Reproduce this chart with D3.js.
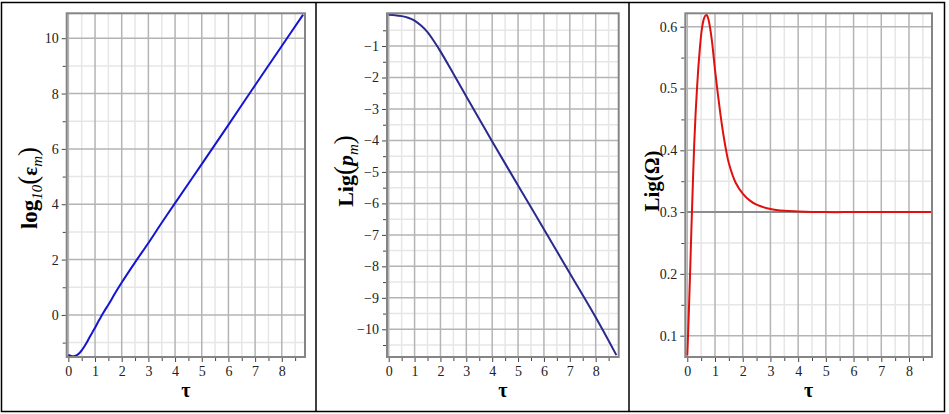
<!DOCTYPE html>
<html><head><meta charset="utf-8">
<script src="https://cdn.jsdelivr.net/npm/d3@7"></script>
<style>html,body{margin:0;padding:0;background:#fff}svg{display:block}</style>
</head><body>
<svg id="c" width="949" height="414"></svg>
<script>
// ---------- data ----------
const tauTicks = [0,1,2,3,4,5,6,7,8];
const tauMinor = [0.5,1.5,2.5,3.5,4.5,5.5,6.5,7.5,8.5];

const tauEps = [0,0.1,0.2,0.3,0.4,0.5,0.6,0.7,0.8,0.9,1.0,1.1,1.2,1.3,1.4,1.5,1.75,2,2.5,3,3.5,4,5,6,7,8,8.8];
const logEps = [-1.45,-1.48,-1.49,-1.46,-1.39,-1.28,-1.14,-0.98,-0.8,-0.63,-0.46,-0.28,-0.11,0.06,0.22,0.37,0.78,1.17,1.9,2.6,3.33,4.04,5.45,6.87,8.3,9.72,10.85];
const epsTicks = [0,2,4,6,8,10];
const epsMinor = [-1,1,3,5,7,9];

const tauP = [0,0.25,0.5,0.75,1,1.25,1.5,1.75,2,2.5,3,3.5,4,5,6,7,8,8.8];
const logP = [-0.01,-0.02,-0.05,-0.1,-0.19,-0.35,-0.56,-0.85,-1.17,-1.88,-2.6,-3.32,-4.03,-5.43,-6.82,-8.22,-9.62,-10.82];
const pTicks = [-1,-2,-3,-4,-5,-6,-7,-8,-9,-10];
const pMinor = [-0.5,-1.5,-2.5,-3.5,-4.5,-5.5,-6.5,-7.5,-8.5,-9.5,-10.5];

const tauO = [0,0.05,0.1,0.15,0.2,0.25,0.3,0.35,0.4,0.45,0.5,0.55,0.6,0.65,0.7,0.75,0.8,0.85,0.9,1.0,1.1,1.2,1.3,1.4,1.5,1.75,2,2.25,2.5,3,3.5,4,5,6,7,8,8.8];
const logO = [0.068,0.13,0.2,0.275,0.345,0.41,0.46,0.5,0.535,0.563,0.587,0.603,0.613,0.618,0.619,0.614,0.604,0.59,0.573,0.53,0.492,0.457,0.426,0.4,0.379,0.347,0.33,0.319,0.312,0.305,0.302,0.301,0.3,0.3,0.3,0.3,0.3];
const oTicks = [0.1,0.2,0.3,0.4,0.5,0.6];
const oMinor = [0.15,0.25,0.35,0.45,0.55];
const oRef = 0.3;

// ---------- drawing ----------
const svg = d3.select("#c");
const FONT = "'Liberation Serif','Times New Roman',serif";

svg.append("rect").attr("x",1.5).attr("y",2.5).attr("width",943).attr("height",409)
  .attr("fill","none").attr("stroke","#000").attr("stroke-width",1.5);
[316,629].forEach(xx=>svg.append("line").attr("x1",xx).attr("x2",xx).attr("y1",2.5).attr("y2",411.5)
  .attr("stroke","#000").attr("stroke-width",1.5));

function panel(o){
  const x = d3.scaleLinear().domain(o.xd).range([o.l,o.r]);
  const y = d3.scaleLinear().domain(o.yd).range([o.b,o.t]);
  const g = svg.append("g");
  g.selectAll(".gxm").data(tauMinor.filter(v=>v<o.xd[1])).join("line")
    .attr("x1",d=>x(d)).attr("x2",d=>x(d)).attr("y1",o.t).attr("y2",o.b)
    .attr("stroke","#e6e6e6").attr("stroke-width",1.5);
  g.selectAll(".gym").data(o.ym).join("line")
    .attr("x1",o.l).attr("x2",o.r).attr("y1",d=>y(d)).attr("y2",d=>y(d))
    .attr("stroke","#e6e6e6").attr("stroke-width",1.5);
  g.selectAll(".gx").data(tauTicks).join("line")
    .attr("x1",d=>x(d)).attr("x2",d=>x(d)).attr("y1",o.t).attr("y2",o.b)
    .attr("stroke","#b4b4b4").attr("stroke-width",1.5);
  g.selectAll(".gy").data(o.yt).join("line")
    .attr("x1",o.l).attr("x2",o.r).attr("y1",d=>y(d)).attr("y2",d=>y(d))
    .attr("stroke","#b4b4b4").attr("stroke-width",1.5);

  if (o.ref !== undefined){
    g.append("line").attr("x1",x(0)).attr("x2",x(8.8)).attr("y1",y(o.ref)).attr("y2",y(o.ref))
      .attr("stroke","#8c8c8c").attr("stroke-width",2);
  }
  const line = d3.line().x((d,i)=>x(o.xs[i])).y(d=>y(d)).curve(d3.curveCatmullRom.alpha(0.5));
  g.append("path").attr("d",line(o.ys)).attr("fill","none")
    .attr("stroke",o.color).attr("stroke-width",2);

  g.append("rect").attr("x",o.l).attr("y",o.t).attr("width",o.r-o.l).attr("height",o.b-o.t)
    .attr("fill","none").attr("stroke","#858585").attr("stroke-width",2);

  const ax = g.append("g").attr("transform",`translate(0,${o.b+1})`)
    .call(d3.axisBottom(x).tickValues(tauTicks).tickFormat(d3.format("d")).tickSize(4).tickPadding(4));
  const axm = g.append("g").attr("transform",`translate(0,${o.b+1})`)
    .call(d3.axisBottom(x).tickValues(tauMinor.filter(v=>v<o.xd[1])).tickFormat("").tickSize(3));
  const ay = g.append("g").attr("transform",`translate(${o.l-1},0)`)
    .call(d3.axisLeft(y).tickValues(o.yt).tickFormat(o.fmt).tickSize(4).tickPadding(3));
  const aym = g.append("g").attr("transform",`translate(${o.l-1},0)`)
    .call(d3.axisLeft(y).tickValues(o.ym).tickFormat("").tickSize(3));
  [ax,axm,ay,aym].forEach(a=>{
    a.attr("font-size",null).attr("font-family",null);
    a.select(".domain").remove();
    a.selectAll(".tick line").attr("stroke","#444").attr("stroke-width",1);
    a.selectAll("text").style("font-family",FONT).style("font-size","14px").attr("fill","#222");
  });

  g.append("text").attr("x",(o.l+o.r)/2).attr("y",397).attr("text-anchor","middle")
    .attr("font-family",FONT).attr("font-weight","bold").attr("font-size",20).text("τ");
  const t = g.append("text").attr("transform",`translate(${o.yx},${o.yy}) rotate(-90)`)
    .attr("text-anchor","middle").attr("font-family",FONT).attr("font-size",20).attr("fill","#000");
  o.title(t);
}

panel({l:66.7,r:305,t:13.3,b:357,xd:[-0.062,8.87],yd:[-1.52,10.9],
  xs:tauEps,ys:logEps,yt:epsTicks,ym:epsMinor,color:"#1414d2",fmt:d3.format("d"),
  yx:37,yy:188,
  title:t=>{
    t.append("tspan").attr("font-weight","bold").attr("font-size",23).text("log");
    t.append("tspan").attr("font-style","italic").attr("font-size",15).attr("dy",5).text("10");
    t.append("tspan").attr("font-size",27).attr("dy",-5).text("(");
    t.append("tspan").attr("font-weight","bold").attr("font-size",21).text("ε");
    t.append("tspan").attr("font-style","italic").attr("font-size",15).attr("dy",5).text("m");
    t.append("tspan").attr("font-size",27).attr("dy",-5).text(")");
  }});

panel({l:387,r:618.7,t:13.3,b:357,xd:[-0.066,8.89],yd:[-10.88,0.04],
  xs:tauP,ys:logP,yt:pTicks,ym:pMinor,color:"#2a2a8e",fmt:d=>"\u2212"+Math.abs(d),
  yx:353,yy:171,
  title:t=>{
    t.append("tspan").attr("font-weight","bold").attr("font-size",22).text("Lig");
    t.append("tspan").attr("font-size",27).text("(");
    t.append("tspan").attr("font-weight","bold").attr("font-style","italic").attr("font-size",22).text("p");
    t.append("tspan").attr("font-style","italic").attr("font-size",15).attr("dy",5).text("m");
    t.append("tspan").attr("font-size",27).attr("dy",-5).text(")");
  }});

panel({l:685.3,r:932,t:13.3,b:357,xd:[-0.072,8.83],yd:[0.0655,0.6217],
  xs:tauO,ys:logO,yt:oTicks,ym:oMinor,color:"#e01010",fmt:d3.format(".1f"),ref:oRef,
  yx:659,yy:181,
  title:t=>{
    t.append("tspan").attr("font-weight","bold").attr("font-size",21).text("Lig(Ω)");
  }});
</script>
</body></html>
